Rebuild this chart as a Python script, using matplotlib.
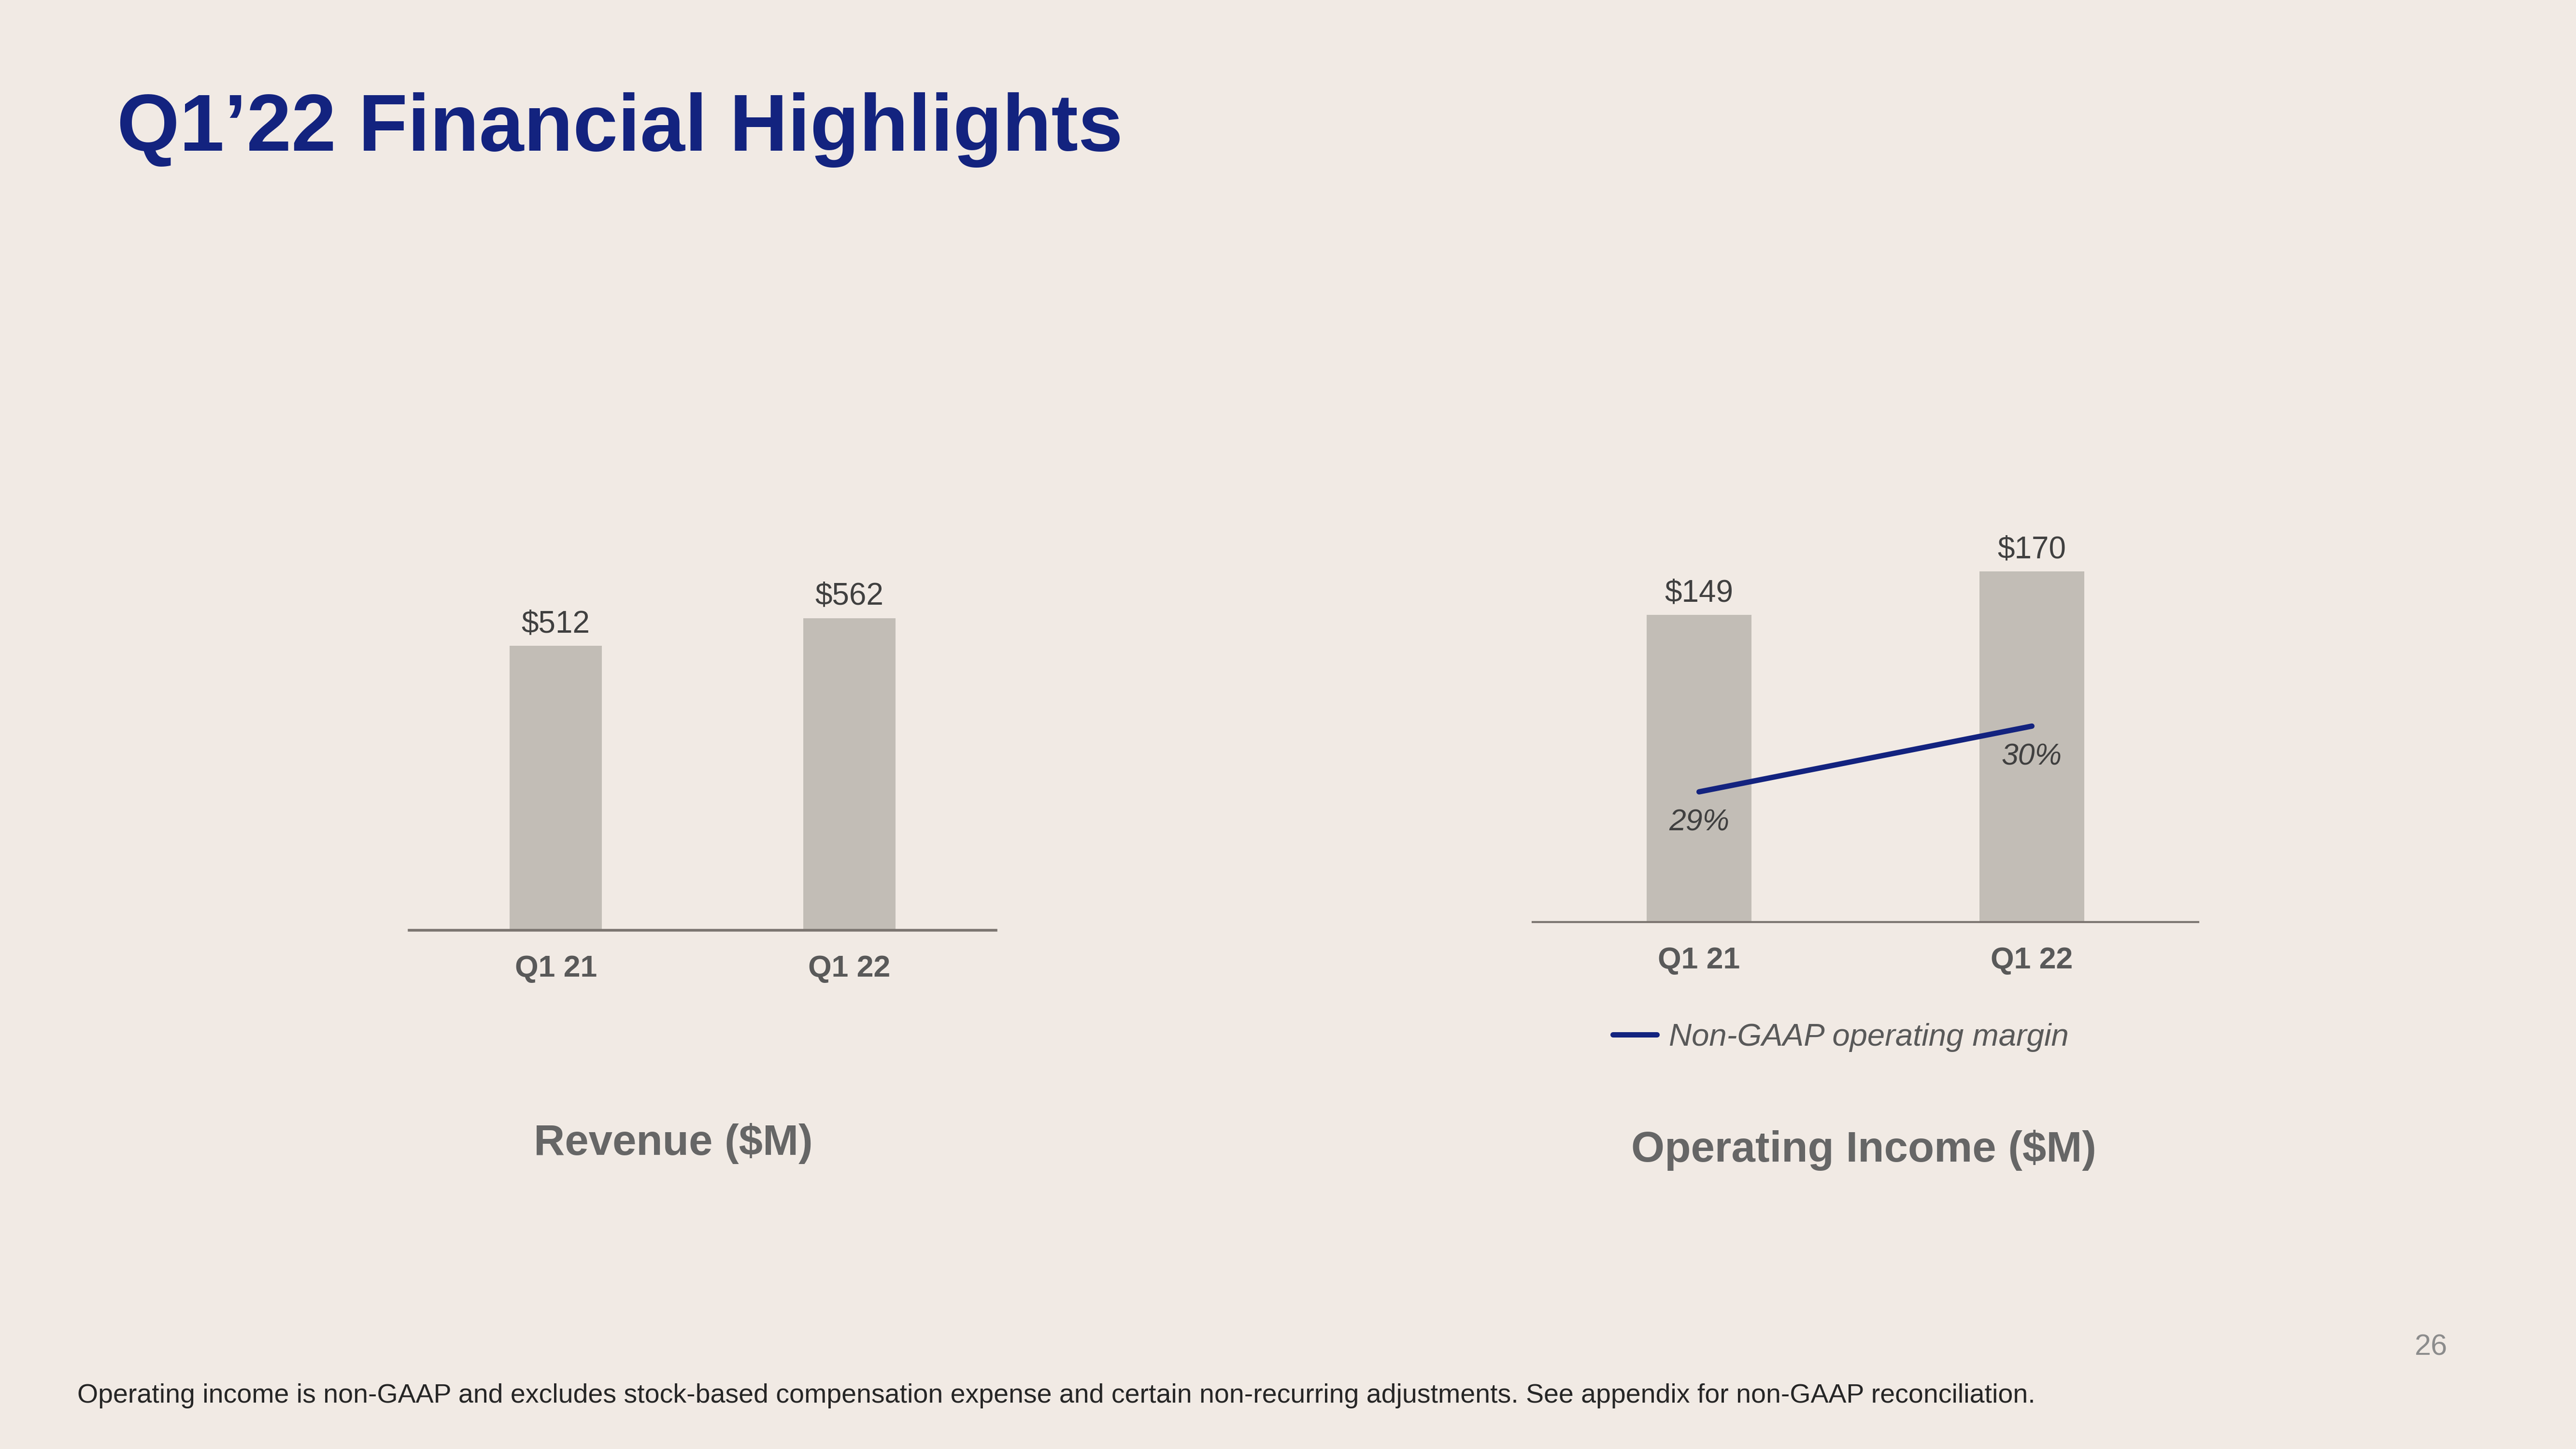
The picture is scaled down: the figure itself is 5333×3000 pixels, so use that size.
import matplotlib
matplotlib.use("Agg")
import matplotlib.pyplot as plt

plt.rcParams['font.family'] = ['Liberation Sans', 'DejaVu Sans']

# data
quarters = ["Q1 21", "Q1 22"]
revenue = [512, 562]
op_income = [149, 170]
op_margin = [29.1, 30.2]

title = "Q1\u201922 Financial Highlights"
footnote = ("Operating income is non-GAAP and excludes stock-based compensation expense "
            "and certain non-recurring adjustments. See appendix for non-GAAP reconciliation.")

BG = "#F1EAE4"
BAR = "#C2BDB6"
NAVY = "#13237F"
VAL = "#404040"
TICK = "#595959"
AXLINE = "#7B7570"

W, H = 5333, 3000
fig = plt.figure(figsize=(W / 100, H / 100), dpi=100, facecolor=BG)


def px_axes(x0, x1, ytop, ybot):
    return fig.add_axes([x0 / W, 1 - ybot / H, (x1 - x0) / W, (ybot - ytop) / H])


def style_bar_axes(ax, lw):
    ax.set_facecolor("none")
    for s in ["top", "left", "right"]:
        ax.spines[s].set_visible(False)
    ax.spines["bottom"].set_color(AXLINE)
    ax.spines["bottom"].set_linewidth(lw)
    ax.set_yticks([])
    ax.set_xlim(-0.5, 1.5)
    ax.set_xticks(range(len(quarters)), quarters)
    ax.tick_params(axis="x", length=0, pad=36, labelsize=45, labelcolor=TICK)
    for t in ax.get_xticklabels():
        t.set_fontweight("bold")


# revenue chart
ax1 = px_axes(847, 2062, 1000, 1926)
ax1.bar(range(len(quarters)), revenue, width=0.314, color=BAR)
ax1.set_ylim(0, 805)
style_bar_axes(ax1, 4)
for i, v in enumerate(revenue):
    ax1.annotate(f"${v}", (i, v), xytext=(0, 20), textcoords="offset points",
                 ha="center", va="baseline", fontsize=46, color=VAL)

# operating income chart
ax2 = px_axes(3173, 4551, 1000, 1909)
ax2.bar(range(len(quarters)), op_income, width=0.314, color=BAR)
ax2.set_ylim(0, 212.9)
style_bar_axes(ax2, 3)
for i, v in enumerate(op_income):
    ax2.annotate(f"${v}", (i, v), xytext=(0, 20), textcoords="offset points",
                 ha="center", va="baseline", fontsize=46, color=VAL)

ax3 = ax2.twinx()
ax3.plot(range(len(quarters)), op_margin, color=NAVY, lw=8, solid_capstyle="round",
         label="Non-GAAP operating margin")
ax3.set_ylim(26.92, 34.27)
ax3.set_yticks([])
for s in ax3.spines.values():
    s.set_visible(False)
for i, v in enumerate(op_margin):
    ax3.annotate(f"{round(v)}%", (i, v), xytext=(0, -58), textcoords="offset points",
                 ha="center", va="baseline", fontsize=45, style="italic", color=VAL)

ax3.legend(loc="center left", bbox_to_anchor=(3339 / W, 1 - 2148 / H),
           bbox_transform=fig.transFigure, frameon=False, borderpad=0,
           borderaxespad=0, handlelength=1.4, handletextpad=0.37,
           prop={"size": 47, "style": "italic"}, labelcolor=TICK)

# chart captions
fig.text(1394 / W, 1 - 2391 / H, "Revenue ($M)", ha="center", va="baseline",
         fontsize=64, weight="bold", color="#666666")
fig.text(3858 / W, 1 - 2405 / H, "Operating Income ($M)", ha="center", va="baseline",
         fontsize=64, weight="bold", color="#666666")

# title, footnote, page number
fig.text(242 / W, 1 - 312 / H, title, ha="left", va="baseline",
         fontsize=120, weight="bold", color=NAVY)
fig.text(160 / W, 1 - 2904 / H, footnote, ha="left", va="baseline",
         fontsize=40, color="#262626")
fig.text(5033 / W, 1 - 2806 / H, "26", ha="center", va="baseline",
         fontsize=44, color="#8C8C8C")

fig.savefig("out.png", dpi=100, facecolor=BG)
